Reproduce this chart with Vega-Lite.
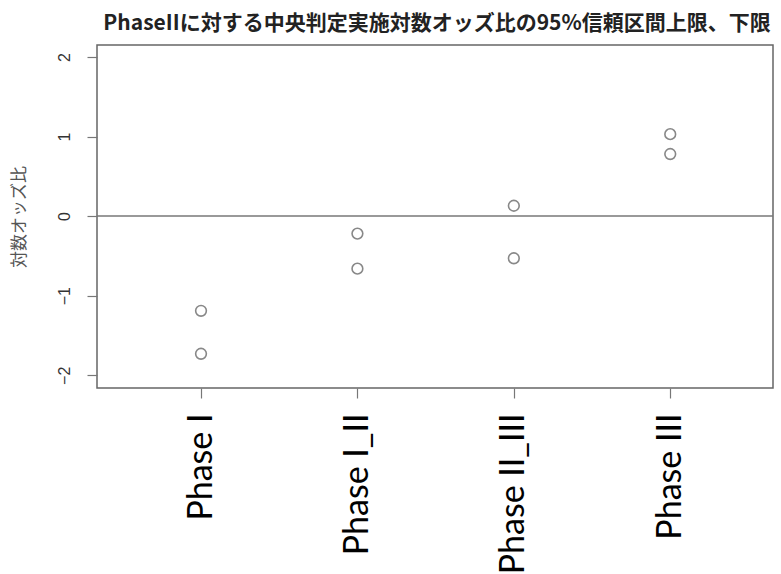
{
  "$schema": "https://vega.github.io/schema/vega-lite/v6.json",
  "width": 676,
  "height": 343,
  "autosize": "none",
  "padding": {"left": 97, "top": 45, "right": 8, "bottom": 186},
  "background": "white",
  "config": {
    "view": {"stroke": "#666666", "strokeWidth": 1.5},
    "font": "Liberation Sans"
  },
  "title": {
    "text": "PhaseIIに対する中央判定実施対数オッズ比の95%信頼区間上限、下限",
    "font": "Noto Sans CJK JP",
    "fontSize": 21,
    "fontWeight": "bold",
    "color": "#222222",
    "anchor": "middle",
    "dx": 2,
    "offset": 11
  },
  "data": {
    "values": [
      {"idx": 1, "phase": "Phase I", "bound": "upper", "value": -1.19},
      {"idx": 1, "phase": "Phase I", "bound": "lower", "value": -1.73},
      {"idx": 2, "phase": "Phase I_II", "bound": "upper", "value": -0.22},
      {"idx": 2, "phase": "Phase I_II", "bound": "lower", "value": -0.66},
      {"idx": 3, "phase": "Phase II_III", "bound": "upper", "value": 0.13},
      {"idx": 3, "phase": "Phase II_III", "bound": "lower", "value": -0.53},
      {"idx": 4, "phase": "Phase III", "bound": "upper", "value": 1.03},
      {"idx": 4, "phase": "Phase III", "bound": "lower", "value": 0.78}
    ]
  },
  "layer": [
    {
      "data": {"values": [{"y": 0}]},
      "mark": {"type": "rule", "color": "#777777", "strokeWidth": 1.5},
      "encoding": {"y": {"field": "y", "type": "quantitative", "scale": {"domain": [-2.16, 2.15]}}}
    },
    {
      "mark": {"type": "point", "shape": "circle", "filled": false, "color": "#888888", "strokeWidth": 1.6, "size": 115, "opacity": 1},
      "encoding": {
        "x": {
          "field": "idx",
          "type": "quantitative",
          "scale": {"domain": [0.335, 4.657], "nice": false, "zero": false},
          "axis": {
            "title": null,
            "values": [1, 2, 3, 4],
            "labelExpr": "['','Phase I','Phase I_II','Phase II_III','Phase III'][datum.value]",
            "domain": false,
            "grid": false,
            "ticks": true,
            "tickSize": 10,
            "tickColor": "#777777",
            "tickWidth": 1.2,
            "labelAngle": -90,
            "labelAlign": "right",
            "labelBaseline": "middle",
            "labelFont": "Lato",
            "labelFontSize": 34,
            "labelColor": "#000000",
            "labelPadding": 15,
            "labelOverlap": false,
            "labelBound": false
          }
        },
        "y": {
          "field": "value",
          "type": "quantitative",
          "scale": {"domain": [-2.16, 2.15], "nice": false},
          "axis": {
            "title": "対数オッズ比",
            "titleFont": "Noto Sans CJK JP",
            "titleFontSize": 17,
            "titleFontWeight": "normal",
            "titleColor": "#555555",
            "titlePadding": 28,
            "values": [-2, -1, 0, 1, 2],
            "format": "d",
            "domain": false,
            "grid": false,
            "tickSize": 10,
            "tickColor": "#777777",
            "tickWidth": 1.2,
            "labelAngle": -90,
            "labelAlign": "center",
            "labelBaseline": "bottom",
            "labelFontSize": 16,
            "labelColor": "#333333",
            "labelPadding": 15
          }
        }
      }
    }
  ]
}
